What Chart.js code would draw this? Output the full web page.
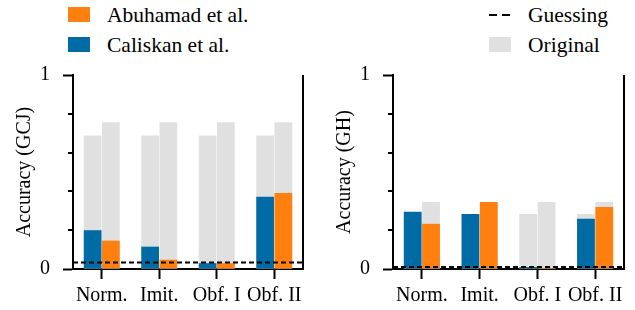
<!DOCTYPE html>
<html>
<head>
<meta charset="utf-8">
<script src="https://cdn.jsdelivr.net/npm/chart.js@4.4.1/dist/chart.umd.min.js"></script>
<style>
  html, body { margin: 0; padding: 0; background: #fff; }
  body { width: 635px; height: 310px; position: relative; overflow: hidden; font-family: 'Liberation Serif', serif; color: #000; }
  .wrap { position: absolute; top: 60px; height: 250px; }
  .leg { position: absolute; font-size: 21.5px; line-height: 24px; white-space: nowrap; }
  .box { position: absolute; width: 22px; height: 15px; }
  .dash { position: absolute; width: 8px; height: 2px; background: #000; }
</style>
</head>
<body>
<div class="box" style="left:68px; top:7px; background:#FF800E"></div>
<div class="leg" style="left:107px; top:3px">Abuhamad et al.</div>
<div class="box" style="left:68px; top:37px; background:#006BA4"></div>
<div class="leg" style="left:107px; top:33px">Caliskan et al.</div>
<div class="dash" style="left:489px; top:14px"></div>
<div class="dash" style="left:502px; top:14px"></div>
<div class="leg" style="left:528px; top:3px">Guessing</div>
<div class="box" style="left:489px; top:37px; background:#E0E0E0"></div>
<div class="leg" style="left:528px; top:33px">Original</div>

<div class="wrap" style="left:0; width:318px"><canvas id="gcj" width="318" height="250"></canvas></div>
<div class="wrap" style="left:318px; width:317px"><canvas id="gh" width="317" height="250"></canvas></div>

<script>
const categories = ['Norm.', 'Imit.', 'Obf. I', 'Obf. II'];

// GCJ
const gcjCaliskan = [0.20, 0.115, 0.03, 0.372];
const gcjAbuhamad = [0.146, 0.048, 0.03, 0.392];
const gcjOrigCaliskan = [0.688, 0.688, 0.688, 0.688];
const gcjOrigAbuhamad = [0.757, 0.757, 0.757, 0.757];
const gcjGuessing = 0.034;

// GH
const ghCaliskan = [0.295, 0.284, 0.01, 0.259];
const ghAbuhamad = [0.233, 0.346, 0.005, 0.32];
const ghOrigCaliskan = [0.284, 0.284, 0.284, 0.284];
const ghOrigAbuhamad = [0.346, 0.346, 0.346, 0.346];
const ghGuessing = 0.01;

const BLUE = '#006BA4', ORANGE = '#FF800E', GREY = '#E0E0E0';
const FONT = { family: 'Liberation Serif', size: 20 };

Chart.defaults.color = '#000';
Chart.defaults.font.family = 'Liberation Serif';

// minor y ticks, right spine and the dashed guessing line
const extras = {
  id: 'extras',
  afterDatasetsDraw(chart, args, opts) {
    const s = chart.scales.y, ctx = chart.ctx, a = chart.chartArea;
    ctx.save();
    ctx.strokeStyle = '#000';
    ctx.lineWidth = 2;
    const g = s.getPixelForValue(opts.guess);
    ctx.setLineDash([5, 3]);
    ctx.beginPath();
    ctx.moveTo(a.left, g);
    ctx.lineTo(a.right, g);
    ctx.stroke();
    ctx.setLineDash([]);
    [0.2, 0.4, 0.6, 0.8].forEach(v => {
      const y = Math.round(s.getPixelForValue(v));
      ctx.beginPath();
      ctx.moveTo(a.left - 5, y);
      ctx.lineTo(a.left, y);
      ctx.stroke();
    });
    ctx.beginPath();
    ctx.moveTo(Math.round(a.right), s.getPixelForValue(1));
    ctx.lineTo(Math.round(a.right), s.getPixelForValue(0) + 1);
    ctx.stroke();
    ctx.restore();
  }
};

function makeChart(id, title, cal, abu, origCal, origAbu, guess, yWidth, titlePad, padRight) {
  const isMajor = v => Math.abs(v) < 1e-6 || Math.abs(v - 1) < 1e-6;
  return new Chart(document.getElementById(id), {
    type: 'bar',
    data: {
      labels: categories,
      datasets: [
        { label: 'Caliskan et al.', data: cal, backgroundColor: BLUE, stack: 'c', order: 1 },
        { label: 'Abuhamad et al.', data: abu, backgroundColor: ORANGE, stack: 'a', order: 1 },
        { label: 'Original', data: origCal, backgroundColor: GREY, stack: 'c', order: 2 },
        { label: 'Original', data: origAbu, backgroundColor: GREY, stack: 'a', order: 2 }
      ]
    },
    options: {
      responsive: false,
      animation: false,
      categoryPercentage: 0.635,
      barPercentage: 0.97,
      layout: { padding: { left: 0, top: 15, right: padRight, bottom: 0 } },
      plugins: { legend: { display: false }, tooltip: { enabled: false }, extras: { guess } },
      scales: {
        x: {
          stacked: true,
          grid: { display: true, drawOnChartArea: false, offset: false, tickLength: 10, tickWidth: 2, tickColor: '#000' },
          border: { display: true, color: '#000', width: 2 },
          ticks: { font: FONT, padding: 5, maxRotation: 0, autoSkip: false },
          afterFit: s => { s.height = 41; s.paddingLeft = 0; s.paddingRight = 0; }
        },
        y: {
          stacked: false,
          min: 0, max: 1,
          grid: { display: true, drawOnChartArea: false, tickLength: 10, tickWidth: 2,
                  tickColor: c => isMajor(c.tick.value) ? '#000' : 'rgba(0,0,0,0)' },
          border: { display: true, color: '#000', width: 2 },
          ticks: { stepSize: 0.2, font: FONT, padding: 13,
                   callback: v => isMajor(v) ? String(Math.round(v)) : '' },
          title: { display: true, text: title, font: FONT, padding: { top: titlePad, bottom: 0 } },
          afterFit: s => { s.width = yWidth; s.paddingTop = 0; s.paddingBottom = 0; }
        }
      }
    },
    plugins: [extras]
  });
}

makeChart('gcj', 'Accuracy (GCJ)', gcjCaliskan, gcjAbuhamad, gcjOrigCaliskan, gcjOrigAbuhamad, gcjGuessing, 73, 13, 15);
makeChart('gh', 'Accuracy (GH)', ghCaliskan, ghAbuhamad, ghOrigCaliskan, ghOrigAbuhamad, ghGuessing, 75, 15, 11);
</script>
</body>
</html>
